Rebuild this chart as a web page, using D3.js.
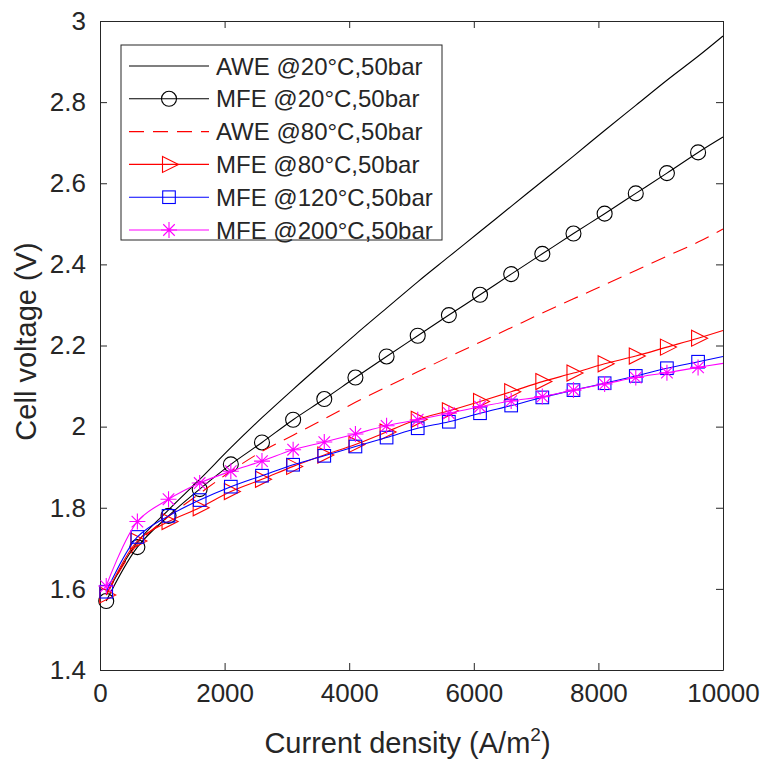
<!DOCTYPE html>
<meta charset="utf-8">
<style>
body { margin: 0; background: #fff; }
text { font-family: "Liberation Sans", Arial, sans-serif; fill: #262626; }
.line { fill: none; stroke-width: 1.1px; }
</style>
<body>
<script src="https://d3js.org/d3.v7.min.js"></script>
<script>

// current density (A/m2), marker positions plus the line end point
var xs = [100, 600, 1100, 1600, 2100, 2600, 3100, 3600, 4100, 4600, 5100,
          5600, 6100, 6600, 7100, 7600, 8100, 8600, 9100, 9600, 10000];

// cell voltage (V)
var awe20  = [1.585, 1.715, 1.795, 1.870, 1.948, 2.022, 2.092, 2.160, 2.227, 2.292, 2.357,
              2.419, 2.481, 2.543, 2.605, 2.667, 2.730, 2.792, 2.854, 2.913, 2.963];
var mfe20  = [1.570, 1.703, 1.780, 1.846, 1.907, 1.961, 2.017, 2.068, 2.121, 2.173, 2.224,
              2.275, 2.325, 2.376, 2.426, 2.476, 2.525, 2.575, 2.625, 2.676, 2.714];
var awe80  = [1.585, 1.710, 1.778, 1.835, 1.890, 1.939, 1.979, 2.019, 2.060, 2.098, 2.135,
              2.172, 2.208, 2.244, 2.280, 2.315, 2.350, 2.385, 2.420, 2.455, 2.487];
var mfe80  = [1.585, 1.718, 1.766, 1.800, 1.840, 1.870, 1.902, 1.930, 1.956, 1.987, 2.018,
              2.039, 2.062, 2.086, 2.111, 2.132, 2.155, 2.174, 2.196, 2.218, 2.237];
var mfe120 = [1.593, 1.728, 1.780, 1.819, 1.852, 1.879, 1.906, 1.928, 1.951, 1.973, 1.996,
              2.012, 2.033, 2.052, 2.072, 2.090, 2.107, 2.125, 2.144, 2.160, 2.173];
var mfe200 = [1.607, 1.766, 1.821, 1.861, 1.890, 1.915, 1.943, 1.962, 1.982, 2.002, 2.017,
              2.033, 2.049, 2.063, 2.074, 2.090, 2.105, 2.121, 2.133, 2.146, 2.156];

var xTicks = [0, 2000, 4000, 6000, 8000, 10000];
var yTicks = [1.4, 1.6, 1.8, 2, 2.2, 2.4, 2.6, 2.8, 3];

var series = [
  {name: "AWE @20\u00b0C,50bar",  values: awe20,  color: "#000000", dash: null,   marker: "none"},
  {name: "MFE @20\u00b0C,50bar",  values: mfe20,  color: "#000000", dash: null,   marker: "circle"},
  {name: "AWE @80\u00b0C,50bar",  values: awe80,  color: "#ff0000", dash: "15,9", marker: "none"},
  {name: "MFE @80\u00b0C,50bar",  values: mfe80,  color: "#ff0000", dash: null,   marker: "triangle"},
  {name: "MFE @120\u00b0C,50bar", values: mfe120, color: "#0000ff", dash: null,   marker: "square"},
  {name: "MFE @200\u00b0C,50bar", values: mfe200, color: "#ff00ff", dash: null,   marker: "star"}
];

var margin = {top: 21, right: 38, bottom: 90, left: 100},
    width = 723 - margin.left,
    height = 670 - margin.top;

var svg = d3.select("body").append("svg")
    .attr("width", 761)
    .attr("height", 760)
  .append("g")
    .attr("transform", "translate(" + margin.left + "," + margin.top + ")");

var x = d3.scaleLinear().domain([0, 10000]).range([0, width]);
var y = d3.scaleLinear().domain([1.4, 3]).range([height, 0]);

// axes with inward ticks, box on all four sides
var axisColor = "#262626";
function styleAxis(g) {
  g.select(".domain").attr("stroke", axisColor).attr("stroke-width", 1);
  g.selectAll(".tick line").attr("stroke", axisColor);
}

svg.append("g")
    .attr("transform", "translate(0," + height + ")")
    .call(d3.axisBottom(x).tickValues(xTicks).tickSize(-7).tickSizeOuter(0).tickPadding(14)
      .tickFormat(d3.format("d")))
    .call(styleAxis)
    .selectAll("text").attr("font-size", 26).attr("fill", axisColor);

svg.append("g")
    .call(d3.axisTop(x).tickValues(xTicks).tickSize(-7).tickSizeOuter(0).tickFormat(""))
    .call(styleAxis);

svg.append("g")
    .call(d3.axisLeft(y).tickValues(yTicks).tickSize(-7).tickSizeOuter(0).tickPadding(14)
      .tickFormat(d3.format("")))
    .call(styleAxis)
    .selectAll("text").attr("font-size", 26).attr("fill", axisColor);

svg.append("g")
    .attr("transform", "translate(" + width + ",0)")
    .call(d3.axisRight(y).tickValues(yTicks).tickSize(-7).tickSizeOuter(0).tickFormat(""))
    .call(styleAxis);

svg.selectAll(".tick text").attr("font-family", "'Liberation Sans', Arial, sans-serif");

// axis titles
var xt = svg.append("text")
    .attr("x", width / 2 - 4)
    .attr("y", height + 83)
    .attr("text-anchor", "middle")
    .attr("font-size", 29);
xt.append("tspan").text("Current density (A/m");
xt.append("tspan").attr("font-size", 19).attr("dy", -12).text("2");
xt.append("tspan").attr("dy", 12).text(")");

svg.append("text")
    .attr("transform", "translate(-64," + (height / 2 - 4) + ") rotate(-90)")
    .attr("text-anchor", "middle")
    .attr("font-size", 29)
    .text("Cell voltage (V)");

// marker drawing
function drawMarker(g, type, color, cx, cy) {
  if (type === "circle") {
    g.append("circle").attr("cx", cx).attr("cy", cy).attr("r", 7.5)
      .attr("fill", "none").attr("stroke", color).attr("stroke-width", 1.1);
  } else if (type === "square") {
    g.append("rect").attr("x", cx - 6.3).attr("y", cy - 6.3)
      .attr("width", 12.6).attr("height", 12.6)
      .attr("fill", "none").attr("stroke", color).attr("stroke-width", 1.1);
  } else if (type === "triangle") {
    var pts = [[cx - 6.5, cy - 8], [cx + 9.5, cy], [cx - 6.5, cy + 8]];
    g.append("path").attr("d", "M" + pts.join("L") + "Z")
      .attr("fill", "none").attr("stroke", color).attr("stroke-width", 1.1);
  } else if (type === "star") {
    var r = 8, d = r * 0.72;
    g.append("path")
      .attr("d", "M" + cx + "," + (cy - r) + "V" + (cy + r) +
                 "M" + (cx - r) + "," + cy + "H" + (cx + r) +
                 "M" + (cx - d) + "," + (cy - d) + "L" + (cx + d) + "," + (cy + d) +
                 "M" + (cx - d) + "," + (cy + d) + "L" + (cx + d) + "," + (cy - d))
      .attr("fill", "none").attr("stroke", color).attr("stroke-width", 1.1);
  }
}

var line = d3.line()
    .x(function(d) { return x(d[0]); })
    .y(function(d) { return y(d[1]); })
    .curve(d3.curveCatmullRom.alpha(0.5));

var plot = svg.append("g");

series.forEach(function(s) {
  var pts = xs.map(function(v, i) { return [v, s.values[i]]; });
  plot.append("path")
      .datum(pts)
      .attr("class", "line")
      .attr("stroke", s.color)
      .attr("stroke-dasharray", s.dash)
      .attr("d", line);
  if (s.marker !== "none") {
    var mg = plot.append("g");
    // markers at every point except the line end at 10000
    pts.slice(0, pts.length - 1).forEach(function(p) {
      drawMarker(mg, s.marker, s.color, x(p[0]), y(p[1]));
    });
  }
});

// legend
var leg = svg.append("g").attr("transform", "translate(21,24)");
leg.append("rect")
    .attr("width", 321)
    .attr("height", 195)
    .attr("fill", "#fff")
    .attr("stroke", axisColor)
    .attr("stroke-width", 1);

series.forEach(function(s, i) {
  var ly = 21 + i * 32.8;
  leg.append("line")
      .attr("x1", 8).attr("x2", 88)
      .attr("y1", ly).attr("y2", ly)
      .attr("stroke", s.color)
      .attr("stroke-width", 1.1)
      .attr("stroke-dasharray", s.dash);
  if (s.marker !== "none") drawMarker(leg, s.marker, s.color, 48, ly);
  leg.append("text")
      .attr("x", 95)
      .attr("y", ly)
      .attr("dy", "0.36em")
      .attr("font-size", 24)
      .attr("fill", "#000")
      .text(s.name);
});

</script>
</body>
